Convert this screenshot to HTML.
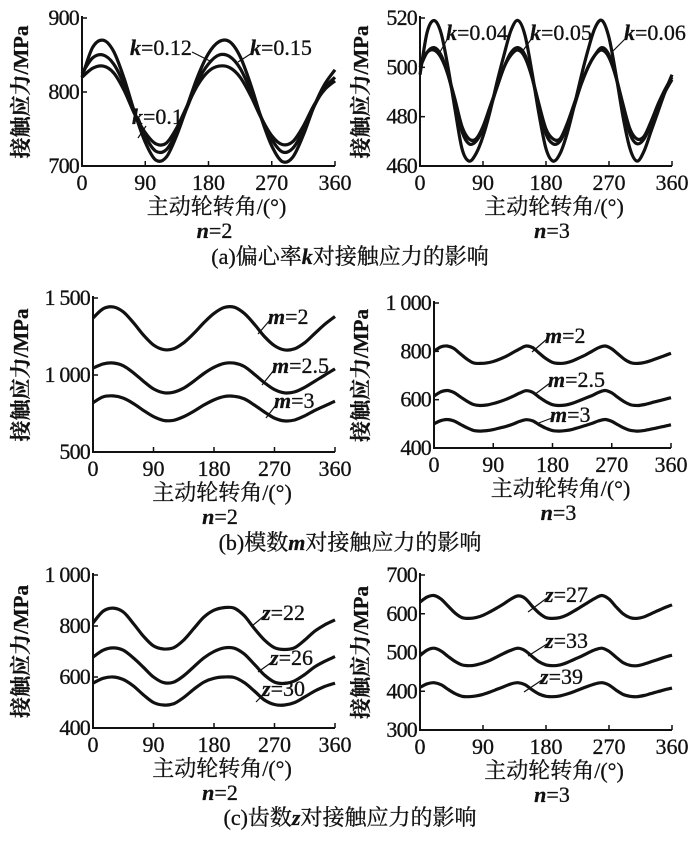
<!DOCTYPE html>
<html><head><meta charset="utf-8">
<style>
html,body{margin:0;padding:0;background:#fff;}
svg{display:block;}
text{font-family:"Liberation Serif","Noto Serif CJK SC",serif;fill:#111;stroke:#111;stroke-width:0.3;}
</style></head>
<body>
<svg id="fig" width="700" height="844" viewBox="0 0 700 844" xmlns="http://www.w3.org/2000/svg"></svg>
<script>
// ---- data ----
const aLeftK15=[820,860,870,855,818,772,732,708,712,742,782,822,852,868,868,848,810,765,727,706,712,742,780,810,830];
const aLeftK12=[825,846,850,838,810,772,740,720,722,746,780,815,838,850,848,832,802,766,736,719,724,748,780,805,820];
const aLeftK10=[820,832,835,826,802,770,745,730,731,752,782,810,828,835,833,820,795,765,741,729,733,754,782,803,815];
const aRightK06=[497,514,519,514,500,483,467,462,465,472,482,494,505,515,519,513,498,481,467,462,465,473,484,496,507,516,519,512,497,480,467,462,466,474,482,490,497];
const aRightK05=[500,506,508,505,497,486,474,469,470,475,483,492,500,506,508,505,496,484,473,469,470,476,484,493,500,505,508,505,496,484,473,469,471,477,484,490,495];
const aRightK04=[501,506,507,504,497,487,476,471,471,476,484,492,500,505,507,504,496,485,475,471,471,477,485,493,500,505,507,504,496,485,475,471,472,478,485,491,496];
const bLeftM2=[1370,1430,1442,1410,1340,1260,1195,1165,1170,1210,1270,1340,1400,1438,1440,1400,1330,1250,1190,1163,1170,1210,1270,1330,1380];
const bLeftM25=[1045,1072,1078,1060,1015,960,910,885,888,915,960,1010,1050,1075,1077,1055,1005,950,905,884,890,920,960,1000,1040];
const bLeftM3=[820,858,864,850,815,770,730,705,706,730,765,805,838,860,862,845,805,760,720,702,708,735,770,800,830];
const bRightM2=[800,818,822,812,790,768,752,750,752,758,768,780,795,810,822,815,792,770,754,750,752,760,772,785,800,815,822,810,788,766,752,750,754,762,772,782,792];
const bRightM25=[615,632,638,630,612,594,580,576,578,584,592,602,614,627,637,630,610,592,579,576,578,585,595,606,617,630,638,628,608,590,578,576,580,587,594,601,608];
const bRightM3=[500,513,518,512,498,484,473,470,472,476,483,490,499,510,517,512,496,482,472,470,472,477,485,493,502,512,518,510,495,481,472,470,473,478,484,490,496];
const cLeftZ22=[812,858,870,855,810,760,722,710,715,745,790,835,862,872,870,840,790,745,715,708,715,745,780,805,824];
const cLeftZ26=[678,705,714,705,675,638,600,578,580,605,640,675,700,714,713,690,650,608,580,575,585,610,640,662,680];
const cLeftZ30=[576,595,600,590,565,530,500,490,495,520,552,580,595,600,598,578,545,510,492,490,500,522,545,563,576];
const cRightZ27=[630,643,647,638,620,602,590,588,590,596,605,615,626,638,646,640,620,602,590,588,590,597,607,618,629,640,647,638,618,600,590,588,592,600,608,616,623];
const cRightZ33=[492,506,511,504,490,477,468,466,468,473,480,489,498,506,511,505,490,476,468,466,468,474,482,490,499,507,511,503,488,474,467,466,470,476,482,488,493];
const cRightZ39=[410,419,422,417,405,394,387,386,388,392,398,405,412,419,422,417,404,393,387,386,388,393,399,406,413,419,422,416,403,392,387,386,389,394,399,404,408];
const xTicks=[0,90,180,270,360];
const aLeftYTicks=[700,800,900];
const aRightYTicks=[460,480,500,520];
const bLeftYTicks=[500,1000,1500];
const bLeftYLabels=["500","1 000","1 500"];
const bRightYTicks=[400,600,800,1000];
const bRightYLabels=["400","600","800","1 000"];
const cLeftYTicks=[400,600,800,1000];
const cLeftYLabels=["400","600","800","1 000"];
const cRightYTicks=[300,400,500,600,700];

// ---- drawing ----
const NS="http://www.w3.org/2000/svg";
const svg=document.getElementById('fig');
function mk(tag,attrs,parent){const e=document.createElementNS(NS,tag);for(const k in attrs)e.setAttribute(k,attrs[k]);(parent||svg).appendChild(e);return e;}
function txt(x,y,s,size,anchor,parent,name){const t=mk('text',{x:x,y:y,'font-size':size,'text-anchor':anchor||'middle'},parent);


t.textContent=s;return t;}
function smooth(pts){
  let d='M'+pts[0][0].toFixed(1)+','+pts[0][1].toFixed(1);
  for(let i=0;i<pts.length-1;i++){
    const p0=pts[Math.max(0,i-1)],p1=pts[i],p2=pts[i+1],p3=pts[Math.min(pts.length-1,i+2)];
    const c1=[p1[0]+(p2[0]-p0[0])/6,p1[1]+(p2[1]-p0[1])/6];
    const c2=[p2[0]-(p3[0]-p1[0])/6,p2[1]-(p3[1]-p1[1])/6];
    d+=` C${c1[0].toFixed(1)},${c1[1].toFixed(1)} ${c2[0].toFixed(1)},${c2[1].toFixed(1)} ${p2[0].toFixed(1)},${p2[1].toFixed(1)}`;
  }
  return d;
}

function panel(p){
  const g=mk('g',{});
  
  
  const sx=v=>p.x0+(v/360)*(p.x1-p.x0);
  const sy=v=>p.yb+(v-p.ymin)/(p.ymax-p.ymin)*(p.yt-p.yb);
  const ax=mk('path',{d:`M${p.x0},${p.yt-2} L${p.x0},${p.yb} L${p.x1},${p.yb}`,fill:'none',stroke:'#111','stroke-width':2},g);
  
  
  xTicks.forEach(v=>{
    const tk=mk('line',{x1:sx(v),x2:sx(v),y1:p.yb,y2:p.yb-5,stroke:'#111','stroke-width':1.5},g);
    
    
    txt(sx(v),p.yb+24,String(v),22,'middle',g,'x-tick-label');
  });
  p.yTicks.forEach((v,i)=>{
    const tk=mk('line',{x1:p.x0,x2:p.x0+5,y1:sy(v),y2:sy(v),stroke:'#111','stroke-width':1.5},g);
    
    
    const lab=p.yLabels?p.yLabels[i]:String(v);
    txt(p.x0-3,sy(v)+7,lab,22,'end',g,'y-tick-label').setAttribute('letter-spacing','-0.8');
  });
  const yt=txt(0,0,'接触应力/MPa',21,'middle',g,'y-axis-title');
  yt.setAttribute('transform',`translate(${p.ytx},${(p.yt+p.yb)/2}) rotate(-90)`);
  yt.setAttribute('font-weight','bold');
  txt((p.x0+p.x1)/2+8,p.yb+48,'主动轮转角/(°)',22,'middle',g,'x-axis-title');
  const nt=mk('text',{x:(p.x0+p.x1)/2+6,y:p.yb+72,'font-size':22,'text-anchor':'middle'},g);
  
  
  nt.innerHTML='<tspan font-style="italic" font-weight="bold">n</tspan>='+p.n;
  p.series.forEach(s=>{
    const step=360/(s.data.length-1);
    const pts=s.data.map((v,i)=>[sx(i*step),sy(v)]);
    const pl=mk('path',{d:smooth(pts),fill:'none',stroke:'#111','stroke-width':3.2,'stroke-linejoin':'round'},g);
    
    
    const ld=mk('line',{x1:s.l[0],y1:s.l[1],x2:s.l[2],y2:s.l[3],stroke:'#111','stroke-width':1.2},g);
    
    
    const t=mk('text',{x:s.t[0],y:s.t[1],'font-size':22,'text-anchor':'start'},g);
    
    
    t.innerHTML='<tspan font-style="italic" font-weight="bold">'+s.v+'</tspan>='+s.val;
  });
}
panel({name:'panel-a-n2',x0:82,x1:335,yt:18,yb:166,ymin:700,ymax:900,yTicks:aLeftYTicks,ytx:28,n:2,series:[
 {key:'k0.15',data:aLeftK15,v:'k',val:'0.15',t:[250,55],l:[252,53,238,62]},
 {key:'k0.12',data:aLeftK12,v:'k',val:'0.12',t:[130,55],l:[192,52,212,62]},
 {key:'k0.1',data:aLeftK10,v:'k',val:'0.1',t:[132,124],l:[146,126,138,138]}]});
panel({name:'panel-a-n3',x0:420,x1:672,yt:18,yb:166,ymin:460,ymax:520,yTicks:aRightYTicks,ytx:368,n:3,series:[
 {key:'k0.04',data:aRightK04,v:'k',val:'0.04',t:[446,40],l:[448,38,440,52]},
 {key:'k0.05',data:aRightK05,v:'k',val:'0.05',t:[530,40],l:[532,38,522,52]},
 {key:'k0.06',data:aRightK06,v:'k',val:'0.06',t:[624,40],l:[626,38,612,52]}]});
panel({name:'panel-b-n2',x0:93,x1:335,yt:298,yb:452,ymin:500,ymax:1500,yTicks:bLeftYTicks,yLabels:bLeftYLabels,ytx:28,n:2,series:[
 {key:'m2',data:bLeftM2,v:'m',val:'2',t:[268,324],l:[270,320,258,334]},
 {key:'m2.5',data:bLeftM25,v:'m',val:'2.5',t:[272,373],l:[274,370,262,385]},
 {key:'m3',data:bLeftM3,v:'m',val:'3',t:[274,408],l:[276,405,266,418]}]});
panel({name:'panel-b-n3',x0:434,x1:671,yt:303,yb:448,ymin:400,ymax:1000,yTicks:bRightYTicks,yLabels:bRightYLabels,ytx:368,n:3,series:[
 {key:'m2',data:bRightM2,v:'m',val:'2',t:[545,343],l:[547,339,532,352]},
 {key:'m2.5',data:bRightM25,v:'m',val:'2.5',t:[548,387],l:[550,383,534,395]},
 {key:'m3',data:bRightM3,v:'m',val:'3',t:[550,422],l:[552,418,536,424]}]});
panel({name:'panel-c-n2',x0:93,x1:335,yt:575,yb:728,ymin:400,ymax:1000,yTicks:cLeftYTicks,yLabels:cLeftYLabels,ytx:28,n:2,series:[
 {key:'z22',data:cLeftZ22,v:'z',val:'22',t:[262,620],l:[264,616,252,626]},
 {key:'z26',data:cLeftZ26,v:'z',val:'26',t:[270,665],l:[272,662,258,672]},
 {key:'z30',data:cLeftZ30,v:'z',val:'30',t:[262,696],l:[264,694,256,702]}]});
panel({name:'panel-c-n3',x0:420,x1:672,yt:575,yb:730,ymin:300,ymax:700,yTicks:cRightYTicks,ytx:368,n:3,series:[
 {key:'z27',data:cRightZ27,v:'z',val:'27',t:[545,602],l:[547,598,528,612]},
 {key:'z33',data:cRightZ33,v:'z',val:'33',t:[545,648],l:[547,644,528,656]},
 {key:'z39',data:cRightZ39,v:'z',val:'39',t:[540,684],l:[542,680,524,692]}]});
const caps=[[264,'(a)偏心率','k','对接触应力的影响','caption-a'],[550,'(b)模数','m','对接触应力的影响','caption-b'],[825,'(c)齿数','z','对接触应力的影响','caption-c']];
caps.forEach(c=>{
  const t=mk('text',{x:350,y:c[0],'font-size':22,'text-anchor':'middle'});
  
  
  t.innerHTML=c[1]+'<tspan font-style="italic" font-weight="bold">'+c[2]+'</tspan>'+c[3];
});
</script>
</body></html>
